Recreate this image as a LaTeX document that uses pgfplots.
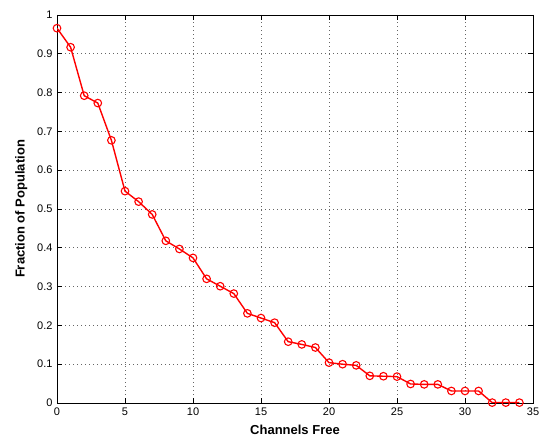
\documentclass[border=0pt]{standalone}
\usepackage{pgfplots}
\pgfplotsset{compat=1.18}
\usepackage{fontspec}
\setmainfont{Liberation Sans}
\begin{document}
\begin{tikzpicture}
\begin{axis}[
  scale only axis,
  width=476bp, height=388bp,
  xmin=0, xmax=35, ymin=0, ymax=1,
  xtick={0,5,...,35},
  ytick={0,0.1,...,1},
  yticklabel style={/pgf/number format/fixed},
  /pgf/number format/assume math mode=true,
  tick label style={font=\fontsize{11bp}{13bp}\selectfont},
  xticklabel style={yshift=-1bp},
  yticklabel style={xshift=-1bp},
  tick align=inside,
  major tick length=5bp,
  tick style={black, line width=0.6bp},
  axis line style={black, line width=0.6bp},
  grid=major,
  major grid style={black!60, dash pattern=on 1bp off 3bp, line width=0.7bp},
  xlabel={\textbf{Channels Free}},
  ylabel={\textbf{Fraction of Population}},
  label style={font=\fontsize{13bp}{15bp}\selectfont},
  xlabel style={yshift=-3bp},
  ylabel style={yshift=3bp},
]
\addplot[red, line width=1.4bp, mark=o, mark size=3.8bp, mark options={line width=1.1bp}] coordinates {
(0,0.966) (1,0.917) (2,0.792) (3,0.773) (4,0.677) (5,0.546) (6,0.519)
(7,0.486) (8,0.418) (9,0.397) (10,0.374) (11,0.320) (12,0.301)
(13,0.282) (14,0.231) (15,0.219) (16,0.207) (17,0.158) (18,0.151)
(19,0.143) (20,0.104) (21,0.100) (22,0.097) (23,0.070) (24,0.069)
(25,0.068) (26,0.049) (27,0.048) (28,0.048) (29,0.031) (30,0.031)
(31,0.031) (32,0.001) (33,0.001) (34,0.001)
};
\end{axis}
\pgfresetboundingbox
\path (current axis.south west) ++(-57bp,-34bp) coordinate (bl);
\path (current axis.north east) ++(7bp,15bp) coordinate (tr);
\useasboundingbox (bl) rectangle (tr);
\end{tikzpicture}
\end{document}
